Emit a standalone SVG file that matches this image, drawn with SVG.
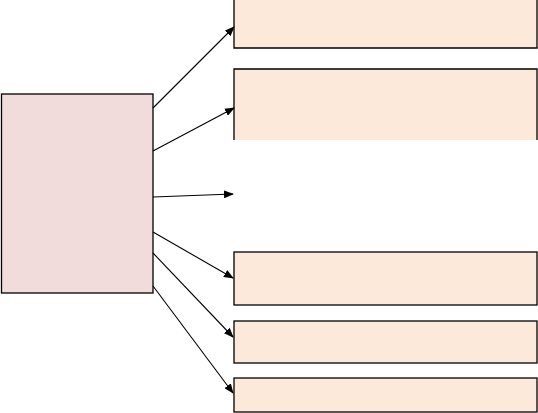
<svg xmlns="http://www.w3.org/2000/svg" width="538" height="413" viewBox="0 0 538 413">
<style>
.src{fill:#F2DCDB;stroke:#000;stroke-width:1.3}
.dst{fill:#FDE9D9;stroke:#000;stroke-width:1.3}
.edge{stroke:#000;stroke-width:1.1;fill:none;marker-end:url(#ah)}
</style>
<defs>
<marker id="ah" markerWidth="10" markerHeight="8" refX="9" refY="4" orient="auto" markerUnits="userSpaceOnUse">
<path d="M0,0 L10,4 L0,8 Z" fill="#000"/>
</marker>
</defs>
<rect width="538" height="413" fill="#fff"/>
<g id="source"><rect class="src" x="1.5" y="94" width="151.5" height="199"/></g>
<g id="box1"><rect x="234" y="0" width="303" height="48" fill="#FDE9D9"/><path d="M234,0 V48 H537 V0" fill="none" stroke="#000" stroke-width="1.3"/></g>
<g id="box2"><rect x="234" y="69" width="303" height="71" fill="#FDE9D9"/><path d="M234,140 V69 H537 V140" fill="none" stroke="#000" stroke-width="1.3"/></g>
<g id="box4"><rect class="dst" x="234" y="252" width="303" height="53"/></g>
<g id="box5"><rect class="dst" x="234" y="321" width="303" height="42"/></g>
<g id="box6"><rect class="dst" x="234" y="378" width="303" height="34"/></g>
<g id="connectors">
<line class="edge" x1="153" y1="108" x2="234" y2="27"/>
<line class="edge" x1="153" y1="151" x2="234" y2="108"/>
<line class="edge" x1="153" y1="197" x2="233" y2="194"/>
<line class="edge" x1="153" y1="232" x2="233" y2="278"/>
<line class="edge" x1="153" y1="253" x2="233" y2="337"/>
<line class="edge" x1="153" y1="286" x2="233" y2="393"/>
</g>
</svg>
